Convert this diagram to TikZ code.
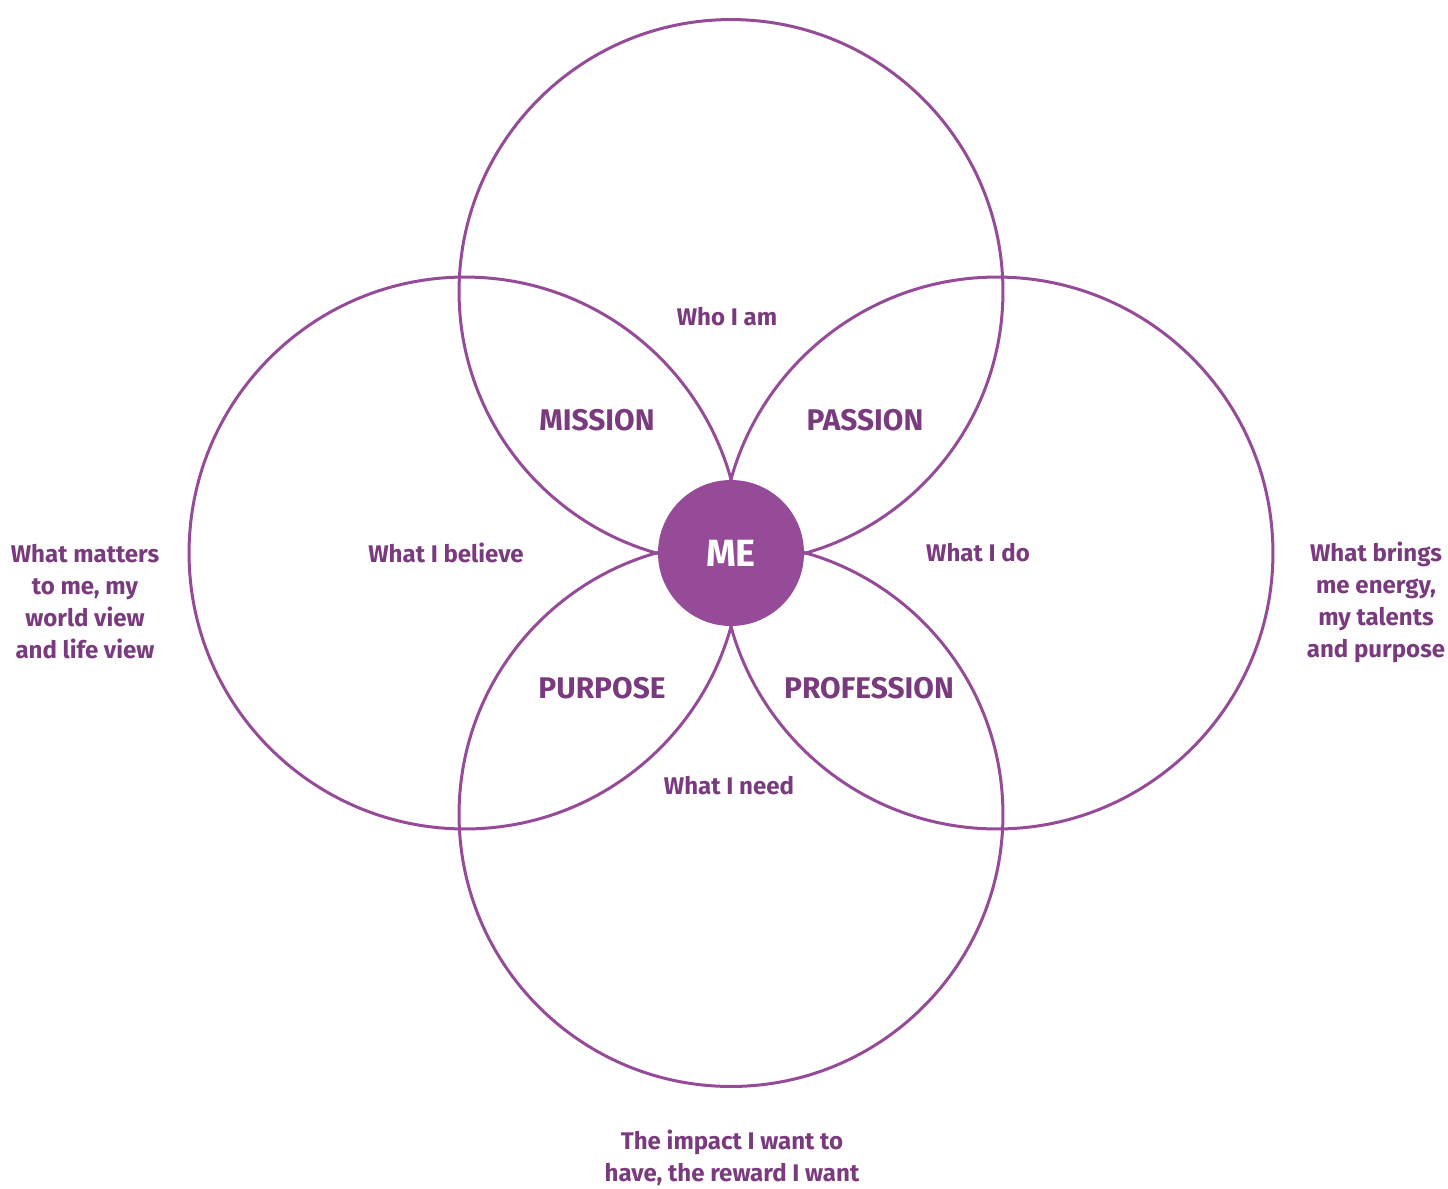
\documentclass[tikz,border=0pt]{standalone}
\usepackage{fontspec}
\setmainfont{Fira Sans}
\usetikzlibrary{positioning}
\definecolor{ringpurple}{HTML}{954B97}
\definecolor{textpurple}{HTML}{7A3A7E}
\tikzset{
    ring/.style={circle, draw=ringpurple, line width=0.06cm, inner sep=0pt},
    small/.style={text=textpurple, font=\fontsize{13.7}{18.2}\selectfont\bfseries, align=center},
    big/.style={text=textpurple, font=\fontsize{17}{20}\selectfont\bfseries}
}
\begin{document}
\begin{tikzpicture}[x=0.02cm, y=-0.02cm]
    \useasboundingbox (0,0) rectangle (1448,1188);
    % the four rings
    \node[ring, minimum size=10.88cm] (top) at (731, 291.5) {};
    \node[ring, minimum size=10.88cm] (bottom) at (731, 814.5) {};
    \node[ring, minimum size=11.04cm] (left) at (465, 553) {};
    \node[ring, minimum size=11.04cm] (right) at (997, 553) {};
    % centre
    \node[circle, fill=ringpurple, minimum size=2.92cm, inner sep=0pt,
          text=white, font=\fontsize{21.6}{24}\selectfont\bfseries] (me) at (731, 553) {ME};
    % overlaps
    \node[big] (mission) at (597, 420) {MISSION};
    \node[big] (passion) at (865, 420) {PASSION};
    \node[big] (purpose) at (602, 688) {PURPOSE};
    \node[big] (profession) at (869, 688) {PROFESSION};
    % ring labels
    \node[small] (whoiam) at (727, 317) {Who I am};
    \node[small] (believe) at (446, 553) {What I believe};
    \node[small] (whatido) at (978, 553) {What I do};
    \node[small] (need) at (729, 786) {What I need};
    % outer texts
    \node[small] (matters) at (85, 602) {What matters\\to me, my\\world view\\and life view};
    \node[small] (energy) at (1376, 602) {What brings\\me energy,\\my talents\\and purpose};
    \node[small] (impact) at (732, 1158) {The impact I want to\\have, the reward I want};
\end{tikzpicture}
\end{document}
